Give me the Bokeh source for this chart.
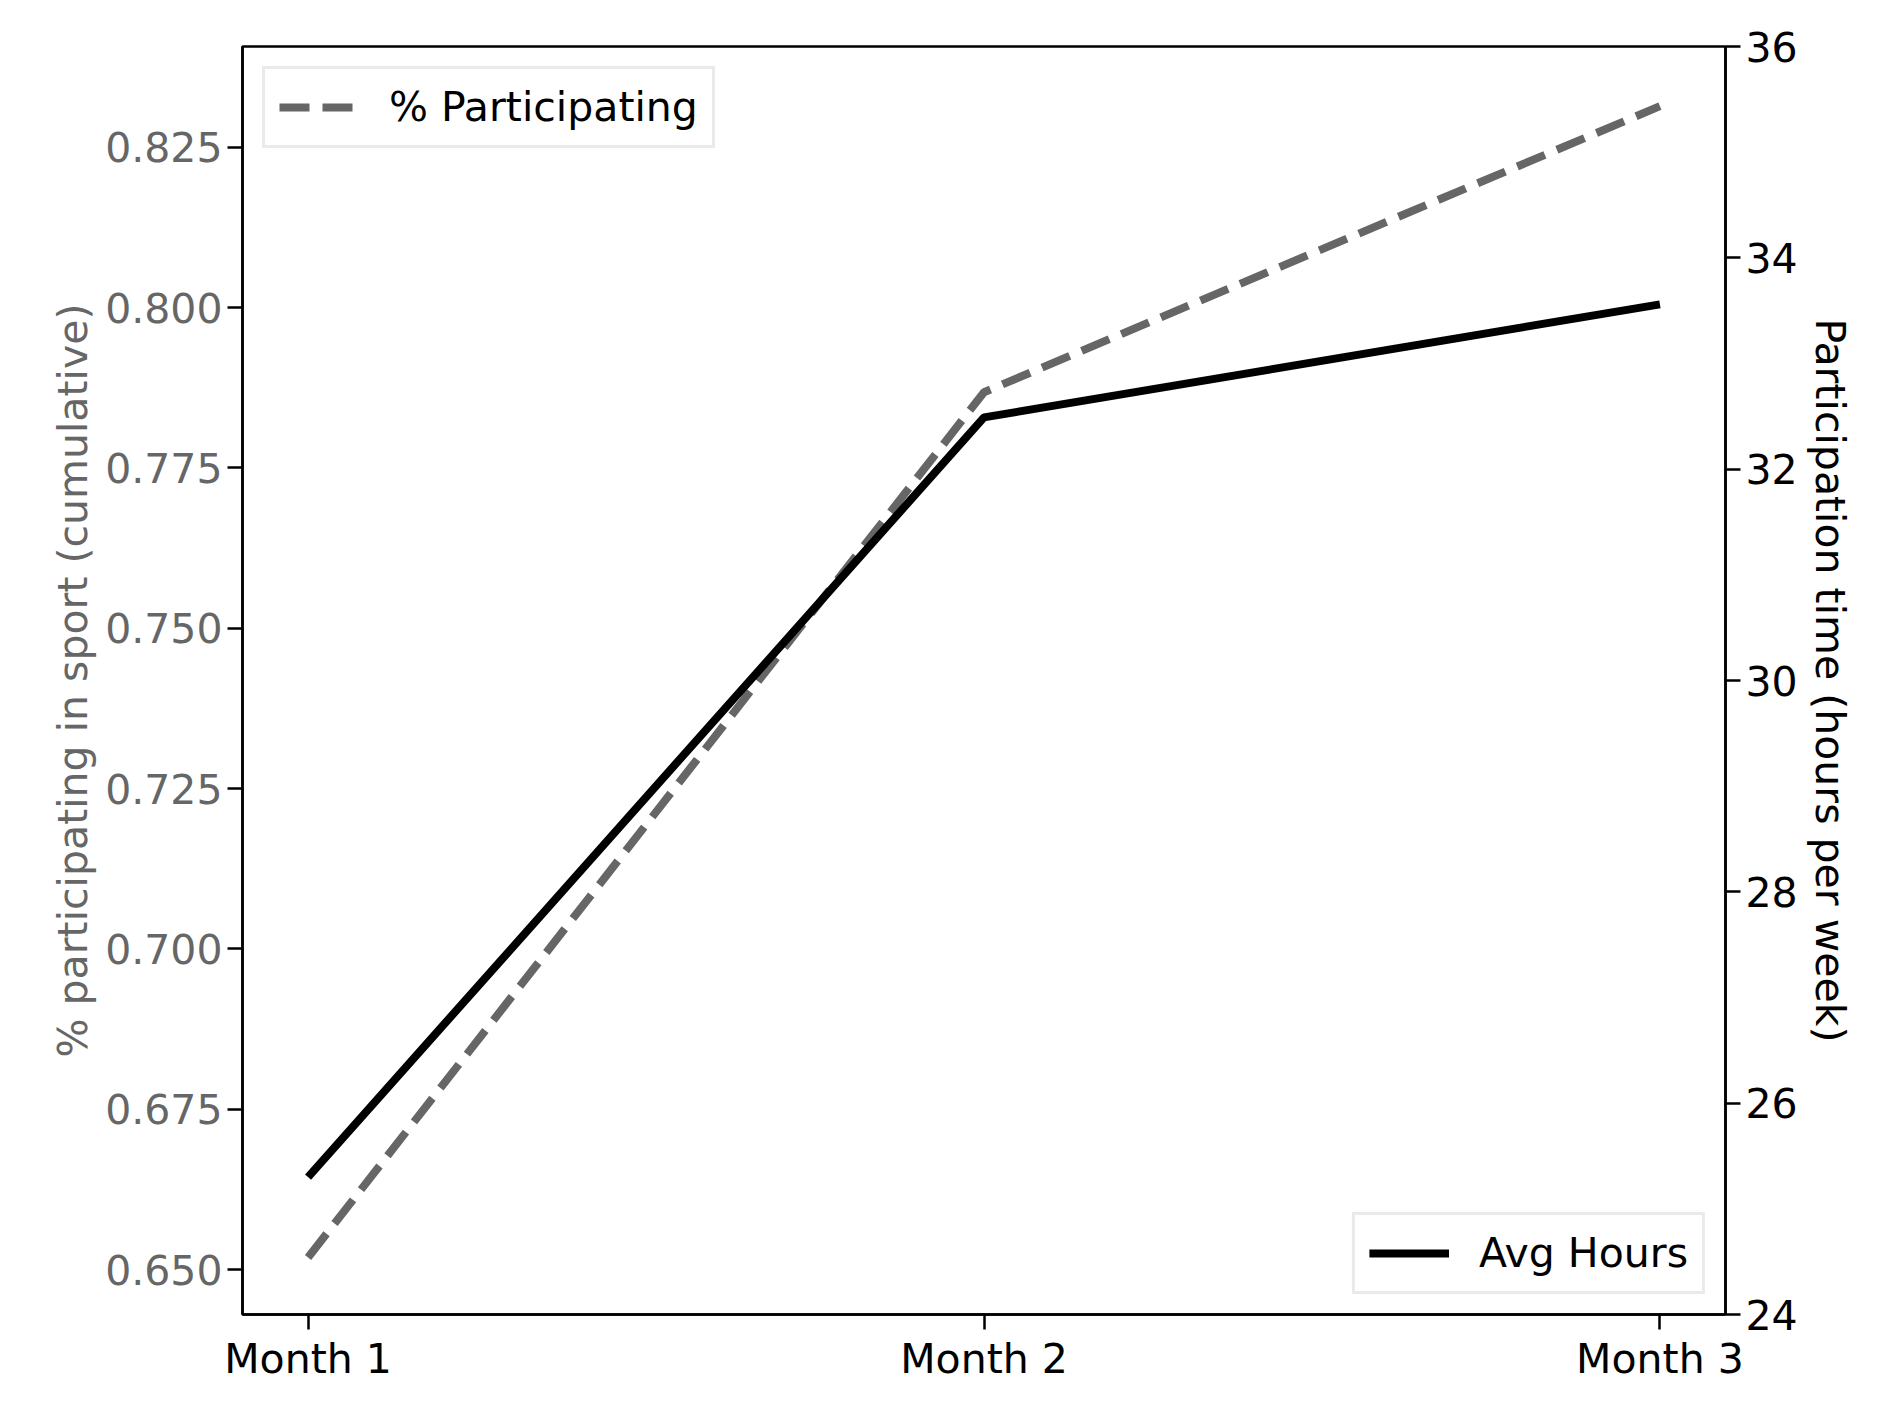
from bokeh.plotting import figure
from bokeh.models import LinearAxis, Range1d, Legend, LegendItem, FixedTicker
from bokeh.embed import file_html
from bokeh.resources import INLINE

months = ["Month 1", "Month 2", "Month 3"]
pct_participating = [0.6519, 0.7868, 0.8314]
avg_hours = [25.30, 32.49, 33.56]
left_ticks = [0.650, 0.675, 0.700, 0.725, 0.750, 0.775, 0.800, 0.825]
right_ticks = [24, 26, 28, 30, 32, 34, 36]

xs = list(range(len(months)))
FONT = "DejaVu Sans"
FS = "41px"

p = figure(width=1875, height=1394, output_backend="svg", toolbar_location=None,
           x_range=Range1d(-0.097, 2.097), y_range=Range1d(0.643, 0.8407),
           min_border_left=242, min_border_right=150, min_border_top=46, min_border_bottom=80)
p.extra_y_ranges = {"hours": Range1d(24, 36)}
p.grid.visible = False
p.outline_line_color = "black"
p.outline_line_width = 2.5
p.background_fill_color = "white"

def style(ax, color):
    ax.axis_line_color = "black"
    ax.axis_line_width = 2.5
    ax.major_tick_line_color = "black"
    ax.major_tick_line_width = 2.5
    ax.major_tick_out = 15
    ax.major_tick_in = 0
    ax.minor_tick_line_color = None
    ax.major_label_text_font = FONT
    ax.major_label_text_font_size = FS
    ax.major_label_text_color = color
    ax.axis_label_text_font = FONT
    ax.axis_label_text_font_size = FS
    ax.axis_label_text_font_style = "normal"
    ax.axis_label_text_color = color

xa = p.xaxis[0]
xa.ticker = FixedTicker(ticks=xs)
xa.major_label_overrides = {i: m for i, m in enumerate(months)}
style(xa, "black")

ya = p.yaxis[0]
ya.ticker = FixedTicker(ticks=left_ticks)
ya.major_label_overrides = {t: f"{t:.3f}" for t in left_ticks}
ya.axis_label = "% participating in sport (cumulative)"
style(ya, "#666666")

ra = LinearAxis(y_range_name="hours", ticker=FixedTicker(ticks=right_ticks),
                axis_label="Participation time (hours per week)")
style(ra, "black")
ra.axis_label_orientation = "vertical"
p.add_layout(ra, "right")

r1 = p.line(xs, pct_participating, line_color="#666666", line_width=8, line_dash="30 13")
r2 = p.line(xs, avg_hours, y_range_name="hours", line_color="black", line_width=8)

def mklegend(item, loc):
    lg = Legend(items=[item], location=loc, label_text_font=FONT, label_text_font_size=FS,
                label_text_color="black",
                border_line_color="#d5d5d5", border_line_width=3, glyph_width=80,
                label_standoff=30, padding=14, margin=20, spacing=0, background_fill_alpha=0.8)
    p.add_layout(lg)

mklegend(LegendItem(label="% Participating", renderers=[r1]), "top_left")
mklegend(LegendItem(label="Avg Hours", renderers=[r2]), "bottom_right")

open("out.html", "w").write(file_html(p, INLINE))
